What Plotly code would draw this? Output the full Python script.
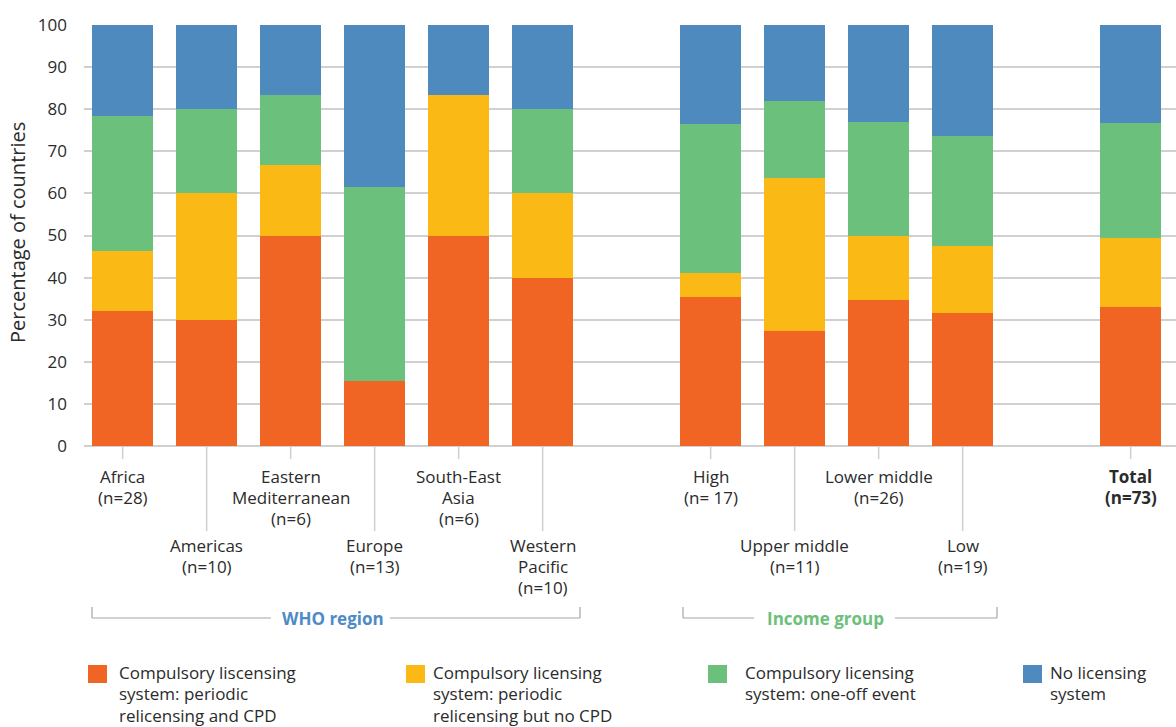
import plotly.graph_objects as go

# ---------------- data ----------------
categories = ["Africa<br>(n=28)", "Americas<br>(n=10)", "Eastern<br>Mediterranean<br>(n=6)",
              "Europe<br>(n=13)", "South-East<br>Asia<br>(n=6)", "Western<br>Pacific<br>(n=10)",
              "High<br>(n= 17)", "Upper middle<br>(n=11)", "Lower middle<br>(n=26)",
              "Low<br>(n=19)", "<b>Total</b><br><b>(n=73)</b>"]
positions = [0, 1, 2, 3, 4, 5, 7, 8, 9, 10, 12]
label_row = [0, 1, 0, 1, 0, 1, 0, 1, 0, 1, 0]   # 0 = upper row, 1 = lower row

periodic_cpd = [32.1, 30.0, 50.0, 15.4, 50.0, 40.0, 35.3, 27.3, 34.6, 31.6, 32.9]
periodic_no_cpd = [14.3, 30.0, 16.7, 0.0, 33.3, 20.0, 5.9, 36.4, 15.4, 15.8, 16.4]
one_off = [32.1, 20.0, 16.7, 46.2, 0.0, 20.0, 35.3, 18.2, 26.9, 26.3, 27.4]
no_licensing = [21.4, 20.0, 16.7, 38.5, 16.7, 20.0, 23.5, 18.2, 23.1, 26.3, 23.3]

series_names = ["Compulsory liscensing<br>system: periodic<br>relicensing and CPD",
                "Compulsory licensing<br>system: periodic<br>relicensing but no CPD",
                "Compulsory licensing<br>system: one-off event",
                "No licensing<br>system"]
series_colors = ["#f06523", "#fbb916", "#6bc17b", "#4e8abe"]

group_names = ["WHO region", "Income group"]
group_colors = ["#4e8bc6", "#6cc07a"]

y_ticks = list(range(0, 101, 10))

# ---------------- layout geometry ----------------
W, H = 1176, 727
L, R, T, B = 84, 0, 25, 281
FONT = "Open Sans"
TXT = "#2b2b2b"


def px(xp):
    return (xp - L) / (W - L - R)


def py(yp):
    return (H - B - yp) / (H - T - B)


fig = go.Figure()
for name, vals, col in zip(series_names, [periodic_cpd, periodic_no_cpd, one_off, no_licensing], series_colors):
    fig.add_trace(go.Bar(x=positions, y=vals, name=name.replace("<br>", " "),
                         marker=dict(color=col, line=dict(width=0)), width=0.726,
                         showlegend=False))

shapes = []
annotations = []

# category tick lines and labels (one annotation per line for tight line spacing)
for p, lab, row in zip(positions, categories, label_row):
    shapes.append(dict(type="line", xref="x", yref="paper", x0=p, x1=p,
                       y0=py(446), y1=py(459 if row == 0 else 531),
                       line=dict(color="#cfcfcf", width=1.5)))
    first = 476 if row == 0 else 545
    for k, line in enumerate(lab.split("<br>")):
        annotations.append(dict(xref="x", yref="paper", x=p, y=py(first + 21 * k),
                                xanchor="center", yanchor="middle", text=line, showarrow=False,
                                font=dict(family=FONT, size=17, color=TXT)))

# group brackets
brackets = [(92, 580, 271, 390, 333), (683, 997, 754, 895, 825)]
for (x0, x1, g0, g1, xc), gname, gcol in zip(brackets, group_names, group_colors):
    yb = 618
    for a, b in [(x0, g0), (g1, x1)]:
        shapes.append(dict(type="line", xref="paper", yref="paper", x0=px(a), x1=px(b),
                           y0=py(yb), y1=py(yb), line=dict(color="#a6a6a6", width=1.2)))
    for xe in (x0, x1):
        shapes.append(dict(type="line", xref="paper", yref="paper", x0=px(xe), x1=px(xe),
                           y0=py(yb), y1=py(yb - 11), line=dict(color="#a6a6a6", width=1.2)))
    annotations.append(dict(xref="paper", yref="paper", x=px(xc), y=py(yb), xanchor="center",
                            yanchor="middle", text="<b>%s</b>" % gname, showarrow=False,
                            font=dict(family=FONT, size=17, color=gcol)))

# legend
leg_sq_x = [88, 406, 708, 1023]
leg_tx_x = [117, 431, 743, 1048]
for sx, tx, name, col in zip(leg_sq_x, leg_tx_x, series_names, series_colors):
    shapes.append(dict(type="rect", xref="paper", yref="paper", x0=px(sx), x1=px(sx + 19),
                       y0=py(665), y1=py(683), fillcolor=col, line=dict(width=0)))
    for k, line in enumerate(name.split("<br>")):
        annotations.append(dict(xref="paper", yref="paper", x=px(tx), y=py(672 + 21.5 * k),
                                xanchor="left", yanchor="middle", text=line, showarrow=False,
                                font=dict(family=FONT, size=17, color=TXT)))

# y axis title
annotations.append(dict(xref="paper", yref="paper", x=px(17), y=py(233), xanchor="center",
                        yanchor="middle", text="Percentage of countries", textangle=-90,
                        showarrow=False, font=dict(family=FONT, size=20, color=TXT)))

fig.update_layout(
    width=W, height=H, margin=dict(l=L, r=R, t=T, b=B),
    barmode="stack", bargap=0,
    paper_bgcolor="white", plot_bgcolor="white",
    shapes=shapes, annotations=annotations, showlegend=False,
    font=dict(family=FONT, size=16, color=TXT),
)
fig.update_xaxes(range=[-0.46, 12.54], showticklabels=False, showgrid=False,
                 zeroline=False, showline=False, ticks="")
fig.update_yaxes(range=[0, 100], tickvals=y_ticks, showgrid=True, gridcolor="#d0d0d0",
                 gridwidth=1.5, zeroline=True, zerolinecolor="#d0d0d0", zerolinewidth=1.5,
                 showline=False, ticks="", ticklabelstandoff=16,
                 tickfont=dict(family=FONT, size=17, color=TXT))

fig.write_html("out.html", config={"displayModeBar": False},
               post_script="document.body.style.margin='0';document.body.style.overflow='hidden';")
